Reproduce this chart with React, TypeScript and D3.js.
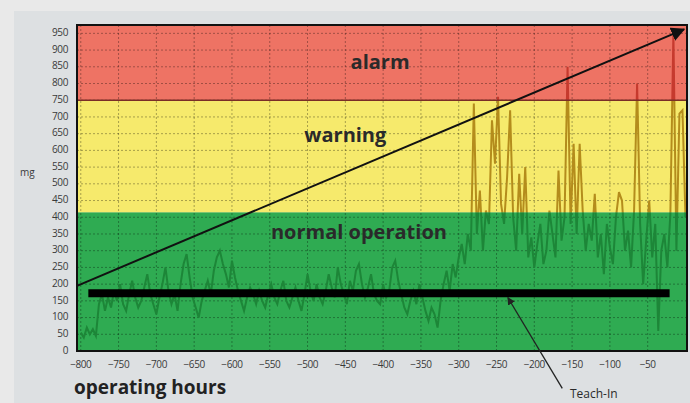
import * as d3 from 'd3'

// vibration readings (mg), one every 4 operating hours from -800
const hourStart = -800
const hourStep = 4
const readings = [
  55, 40, 70, 50, 65, 45, 140, 170, 120, 160,
  130, 180, 150, 200, 140, 120, 170, 210, 160, 130,
  150, 190, 230, 170, 140, 110, 160, 200, 250, 180,
  140, 170, 120, 200, 260, 290, 220, 160, 130, 100,
  150, 180, 210, 170, 240, 280, 300, 260, 230, 190,
  270, 220, 180, 150, 120, 160, 190, 170, 140, 180,
  150, 130, 170, 200, 160, 140, 180, 210, 150, 130,
  160, 190, 150, 120, 170, 230, 180, 150, 200, 160,
  140, 180, 230, 190, 160, 250, 200, 170, 140, 210,
  180, 240, 260, 200, 160, 190, 230, 170, 150, 140,
  200, 160, 180, 250, 270, 210, 170, 130, 110, 150,
  180, 140, 200, 160, 120, 90, 130, 110, 70, 150,
  200, 240, 180, 260, 220, 280, 320, 260, 350, 300,
  740, 350, 480, 300, 420, 380, 690, 560, 760, 440,
  380, 520, 720, 400, 300, 530, 350, 550, 280, 340,
  250, 320, 380, 260, 300, 420, 350, 280, 540, 330,
  400, 850, 380, 620, 350, 620, 420, 300, 380, 330,
  470, 280, 350, 230, 380, 310, 260, 400, 475, 450,
  300, 360, 250, 420, 800, 380, 200, 330, 450, 280,
  380, 60, 300, 350, 250, 410, 950, 300, 710, 720,
  400,
]

const zones = [
  { name: 'normal operation', from: 0, to: 415, fill: '#2fab52', line: '#1d8638' },
  { name: 'warning', from: 415, to: 750, fill: '#f6ea6c', line: '#b48c1c' },
  { name: 'alarm', from: 750, to: 975, fill: '#ee7364', line: '#c63a2e' },
]
const zoneLabels = [
  { text: 'alarm', hour: -404, mg: 860 },
  { text: 'warning', hour: -450, mg: 640 },
  { text: 'normal operation', hour: -432, mg: 350 },
]

const yTicks = d3.range(0, 951, 50)
const xTicks = d3.range(-800, -49, 50)

const teachIn = 173
const trend = { from: [-805, 195], to: [-2, 962] }

const W = 690
const H = 403
const margin = { top: 25, right: 3, bottom: 52, left: 77 }

const App = () => {
  const x = d3.scaleLinear().domain([-805, 2]).range([margin.left, W - margin.right])
  const y = d3.scaleLinear().domain([0, 975]).range([H - margin.bottom, margin.top])

  const points = readings.map((v, i) => [hourStart + i * hourStep, v] as [number, number])
  const path = d3
    .line<[number, number]>()
    .x(d => x(d[0]))
    .y(d => y(d[1]))(points) as string

  const fmt = (n: number) => (n < 0 ? '\u2212' + Math.abs(n) : String(n))
  const font = '"Open Sans", "Noto Sans", sans-serif'

  return (
    <svg width={W} height={H} style={{ position: 'absolute', left: 0, top: 0 }}>
      <defs>
        {zones.map((z, i) => (
          <clipPath key={i} id={`zone${i}`}>
            <rect
              x={x(-805)}
              y={y(z.to)}
              width={x(2) - x(-805)}
              height={y(z.from) - y(z.to)}
            />
          </clipPath>
        ))}
        <marker id="head" viewBox="0 0 10 10" refX="9" refY="5" markerWidth="7" markerHeight="7" orient="auto">
          <path d="M0,0L10,5L0,10z" fill="#111" />
        </marker>
        <marker id="head2" viewBox="0 0 10 10" refX="9" refY="5" markerWidth="6" markerHeight="6" orient="auto">
          <path d="M0,0L10,5L0,10z" fill="#222" />
        </marker>
      </defs>
      <rect width={W} height={H} fill="#e9e9e9" />
      <rect x={14} y={11} width={W - 14} height={H - 11} fill="#dde0e2" />

      {zones.map((z, i) => (
        <rect
          key={i}
          x={x(-805)}
          y={y(z.to)}
          width={x(2) - x(-805)}
          height={y(z.from) - y(z.to)}
          fill={z.fill}
        />
      ))}

      {/* dotted grid */}
      {yTicks.slice(1).map(t => (
        <line
          key={'gy' + t}
          x1={x(-805)}
          x2={x(2)}
          y1={y(t)}
          y2={y(t)}
          stroke="#000"
          strokeOpacity={0.32}
          strokeDasharray="2,2"
        />
      ))}
      {xTicks.map(t => (
        <line
          key={'gx' + t}
          x1={x(t)}
          x2={x(t)}
          y1={y(0)}
          y2={y(975)}
          stroke="#000"
          strokeOpacity={0.32}
          strokeDasharray="2,2"
        />
      ))}

      {zones.map((z, i) => (
        <path
          key={i}
          d={path}
          fill="none"
          stroke={z.line}
          strokeWidth={2}
          clipPath={`url(#zone${i})`}
        />
      ))}

      <line x1={x(-805)} x2={x(2)} y1={y(750)} y2={y(750)} stroke="#7a2e26" strokeWidth={1.5} />

      {zoneLabels.map(l => (
        <text
          key={l.text}
          x={x(l.hour)}
          y={y(l.mg)}
          textAnchor="middle"
          dominantBaseline="middle"
          fontFamily={font}
          fontWeight="bold"
          fontSize={20}
          fill="#2a2a2a"
        >
          {l.text}
        </text>
      ))}

      <line
        x1={x(-790)}
        x2={x(-21)}
        y1={y(teachIn)}
        y2={y(teachIn)}
        stroke="#000"
        strokeWidth={8}
      />

      <line
        x1={x(trend.from[0])}
        y1={y(trend.from[1])}
        x2={x(trend.to[0])}
        y2={y(trend.to[1])}
        stroke="#111"
        strokeWidth={2}
        markerEnd="url(#head)"
      />

      <rect
        x={x(-805)}
        y={y(975)}
        width={x(2) - x(-805)}
        height={y(0) - y(975)}
        fill="none"
        stroke="#111"
        strokeWidth={2}
      />

      {yTicks.map(t => (
        <text
          key={'ty' + t}
          x={margin.left - 9}
          y={y(t)}
          textAnchor="end"
          dominantBaseline="middle"
          fontFamily={font}
          fontSize={10}
          fill="#3a3a3a"
          letterSpacing={-0.4}
        >
          {t}
        </text>
      ))}
      {xTicks.map(t => (
        <text
          key={'tx' + t}
          x={x(t)}
          y={y(0) + 14}
          textAnchor="middle"
          dominantBaseline="middle"
          fontFamily={font}
          fontSize={10}
          fill="#3a3a3a"
          letterSpacing={-0.4}
        >
          {fmt(t)}
        </text>
      ))}

      <text x={20} y={176} fontFamily={font} fontSize={10} fill="#3a3a3a">
        mg
      </text>
      <text x={74} y={394} fontFamily={font} fontSize={19} fontWeight="bold" fill="#222">
        operating hours
      </text>

      <line
        x1={x(-163)}
        y1={y(-112)}
        x2={x(-235)}
        y2={y(160)}
        stroke="#222"
        strokeWidth={1.3}
        markerEnd="url(#head2)"
      />
      <text x={570} y={398} fontFamily={font} fontSize={12} fill="#2a2a2a">
        Teach-In
      </text>
    </svg>
  )
}

export default App
